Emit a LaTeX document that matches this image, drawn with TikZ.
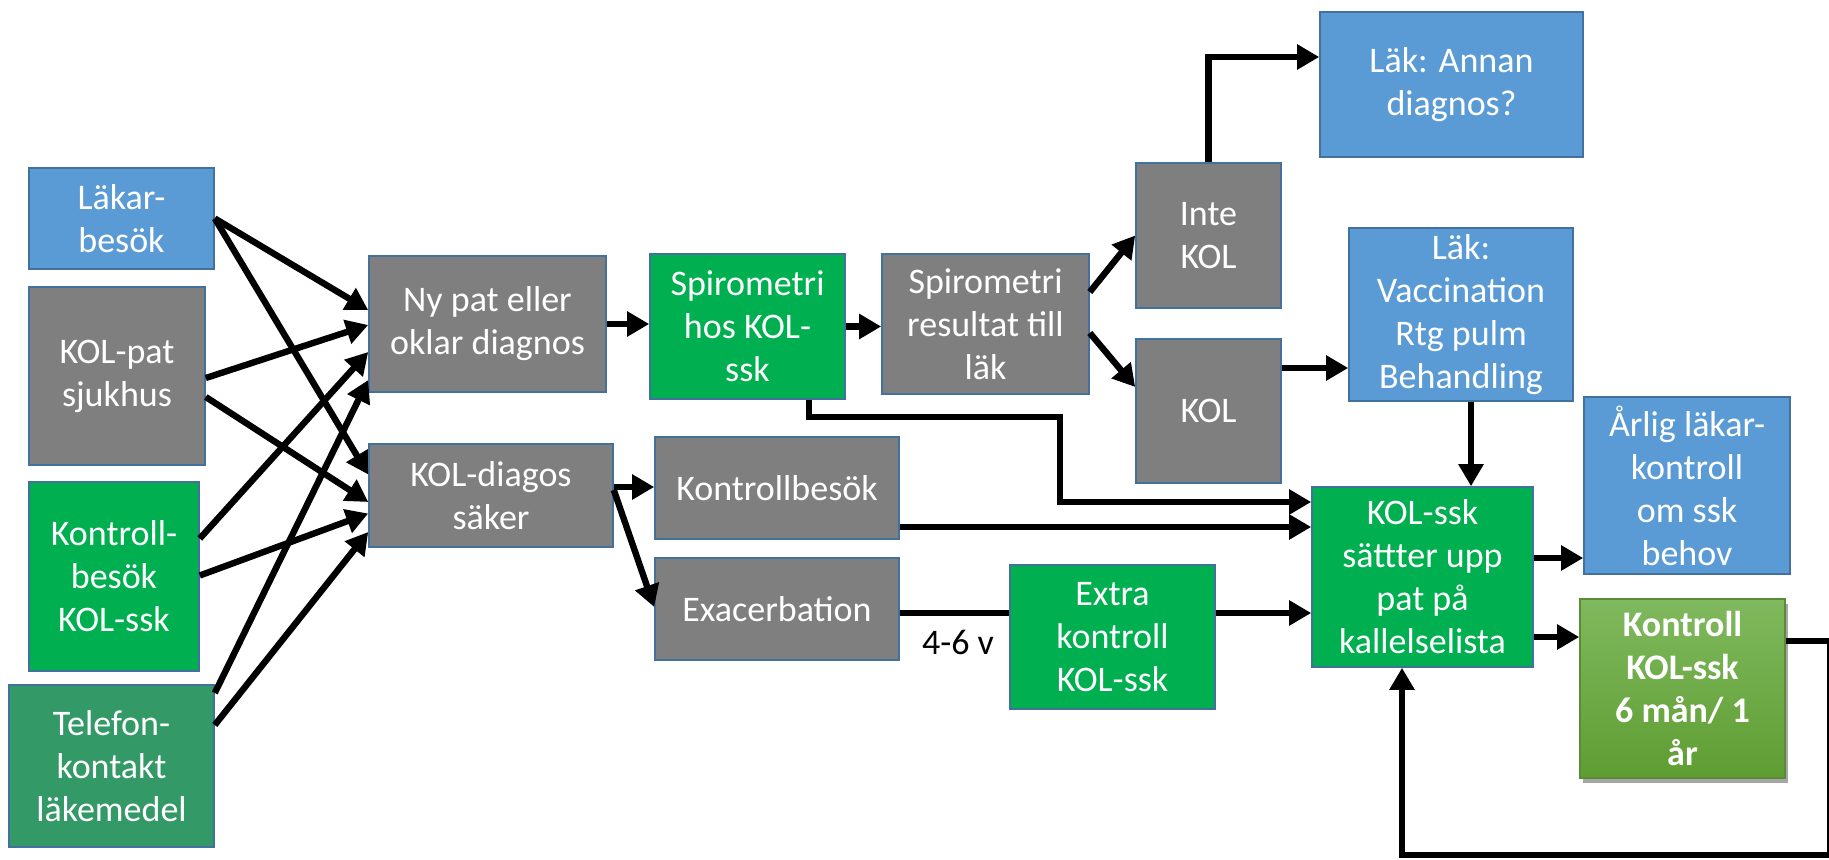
\documentclass[tikz,border=0pt]{standalone}
\usepackage{fontspec}
\setmainfont{Carlito}
\usetikzlibrary{arrows.meta,calc,shadows}
\definecolor{boxblue}{HTML}{5B9BD5}
\definecolor{boxgray}{HTML}{7F7F7F}
\definecolor{boxgreen}{HTML}{00B050}
\definecolor{boxteal}{HTML}{339966}
\definecolor{edgeblue}{HTML}{41719C}
\definecolor{gradtop}{HTML}{80B95E}
\definecolor{gradbot}{HTML}{5E9D32}
\definecolor{gradedge}{HTML}{5A8A3A}
\begin{document}
\begin{tikzpicture}[x=0.5pt,y=-0.5pt,
  box/.style={draw=edgeblue, line width=0.8pt, text=white, align=center,
    inner sep=0pt, font=\fontsize{18}{21.5}\selectfont},
  bluebox/.style={box, fill=boxblue},
  graybox/.style={box, fill=boxgray},
  greenbox/.style={box, fill=boxgreen},
  tealbox/.style={box, fill=boxteal},
  gradbox/.style={box, draw=gradedge, top color=gradtop, bottom color=gradbot,
    font=\fontsize{18}{21.5}\selectfont\bfseries,
    drop shadow={shadow xshift=1.5pt, shadow yshift=-2.5pt, opacity=0.35, fill=black}},
  link/.style={line width=3.2pt},
  flow/.style={link, -{Triangle[length=11pt,width=12pt]}},
  note/.style={text=black, font=\fontsize{18}{21.5}\selectfont}]
\useasboundingbox (0,0) rectangle (1829,860);

% sources on the left
\node[bluebox,  minimum width=92.5pt, minimum height=50.5pt] (lakar)    at (121.5,218.5) {Läkar-\\besök};
\node[graybox,  minimum width=88pt,   minimum height=89pt]   (kolpat)   at (117,376)     {KOL-pat\\sjukhus};
\node[greenbox, minimum width=85pt,   minimum height=94.5pt] (kontroll) at (114,576.5)   {Kontroll-\\besök\\KOL-ssk};
\node[tealbox,  minimum width=102.5pt,minimum height=81pt]   (telefon)  at (111.5,766)   {Telefon-\\kontakt\\läkemedel};

% first decision column
\node[graybox,  minimum width=118.5pt,minimum height=68pt]   (nypat)    at (487.5,324)   {Ny pat eller\\oklar diagnos};
\node[graybox,  minimum width=122pt,  minimum height=51.5pt] (koldiag)  at (491,495.5)   {KOL-diagos\\säker};

% spirometry
\node[greenbox, minimum width=97.5pt, minimum height=72.5pt] (spirohos) at (747.5,326.5) {Spirometri\\hos KOL-\\ssk};
\node[graybox,  minimum width=103.5pt,minimum height=70pt]   (spirores) at (985.5,324)   {Spirometri\\resultat till\\läk};

% visits
\node[graybox,  minimum width=122pt,  minimum height=51pt]   (kbesok)   at (777,488)     {Kontrollbesök};
\node[graybox,  minimum width=122pt,  minimum height=51pt]   (exac)     at (777,609)     {Exacerbation};
\node[greenbox, minimum width=102.5pt,minimum height=72pt]   (extra)    at (1112.5,637)  {Extra\\kontroll\\KOL-ssk};

% outcome of spirometry
\node[graybox,  minimum width=72.5pt, minimum height=72.5pt] (intekol)  at (1208.5,235.5) {Inte\\KOL};
\node[graybox,  minimum width=72.5pt, minimum height=72pt]   (kol)      at (1208.5,411)  {KOL};
\node[bluebox,  minimum width=131.5pt,minimum height=72.5pt] (annan)    at (1451.5,84.5) {Läk: Annan\\diagnos?};
\node[bluebox,  minimum width=112pt,  minimum height=86.5pt] (vacc)     at (1461,314.5)  {Läk:\\Vaccination\\Rtg pulm\\Behandling};

% follow-up
\node[greenbox, minimum width=110.5pt,minimum height=90pt]   (kolssk)   at (1422.5,577)  {KOL-ssk\\sättter upp\\pat på\\kallelselista};
\node[bluebox,  minimum width=103pt,  minimum height=88.5pt] (arlig)    at (1687,485.5)  {Årlig läkar-\\kontroll\\om ssk\\behov};
\node[gradbox,  minimum width=102.5pt,minimum height=89.5pt] (kontroll6) at (1682.5,688.5) {Kontroll\\KOL-ssk\\6 mån/ 1\\år};

% sources into the two entry boxes
\draw[flow] (lakar.east) -- ($(nypat.west)+(0,-14)$);
\draw[flow] (lakar.east) -- ($(koldiag.west)+(0,-21)$);
\draw[flow] ($(kolpat.east)+(0,2)$) -- ($(nypat.west)+(0,1)$);
\draw[flow] ($(kolpat.east)+(0,21)$) -- ($(koldiag.west)+(0,6.5)$);
\draw[flow] ($(kontroll.east)+(0,-38)$) -- ($(nypat.west)+(0,28)$);
\draw[flow] ($(kontroll.east)+(0,-1)$) -- ($(koldiag.west)+(0,18)$);
\draw[flow] ($(telefon.east)+(0,-73)$) -- ($(nypat.west)+(0,56)$);
\draw[flow] ($(telefon.east)+(0,-41)$) -- ($(koldiag.west)+(0,36.5)$);

% spirometry chain
\draw[flow] (nypat.east) -- (nypat.east -| spirohos.west);
\draw[flow] (spirohos.east) -- (spirohos.east -| spirores.west);
\draw[flow] ($(spirores.east)+(0,-32)$) -- (intekol.west);
\draw[flow] ($(spirores.east)+(0,9)$) -- ($(kol.west)+(0,-24)$);
\coordinate (a1) at ($(annan.west)+(0,-27.5)$);
\draw[flow] (intekol.north) |- (a1);
\coordinate (k1) at ($(kol.east)+(0,-43)$);
\draw[flow] (k1) -- (k1 -| vacc.west);
\coordinate (v1) at ($(vacc.south)+(10,0)$);
\draw[flow] (v1) -- (v1 |- kolssk.north);

% spirometry done by the nurse goes straight to the call list
\coordinate (s1) at ($(spirohos.south)+(61.5,0)$);
\coordinate (sb) at (1060,417);
\coordinate (s2) at ($(kolssk.west)+(0,-75)$);
\draw[flow] (s1) |- (sb) |- (s2);

% confirmed diagnosis branch
\coordinate (d1) at ($(koldiag.east)+(0,-8.5)$);
\draw[flow] (d1) -- (d1 -| kbesok.west);
\draw[flow] ($(koldiag.east)+(0,-5.5)$) -- ($(exac.west)+(0,-2)$);
\coordinate (kb) at ($(kbesok.east)+(0,39)$);
\draw[flow] (kb) -- (kb -| kolssk.west);
\coordinate (ex) at ($(exac.east)+(0,4)$);
\draw[link] (ex) -- (ex -| extra.west);
\node[note] (weeks) at (958,642) {4-6 v};
\coordinate (et) at ($(extra.east)+(0,-24)$);
\draw[flow] (et) -- (et -| kolssk.west);

% call list outputs and the recurring loop
\coordinate (ka) at ($(kolssk.east)+(0,-19)$);
\draw[flow] (ka) -- (ka -| arlig.west);
\coordinate (kc) at ($(kolssk.east)+(0,60)$);
\draw[flow] (kc) -- (kc -| kontroll6.west);
\coordinate (l0) at ($(kontroll6.east)+(0,-47.5)$);
\coordinate (lc) at (1830.5,855);
\coordinate (l1) at ($(kolssk.south)+(-20.5,0)$);
\draw[flow] (l0) -| (lc) -| (l1);
\end{tikzpicture}
\end{document}
